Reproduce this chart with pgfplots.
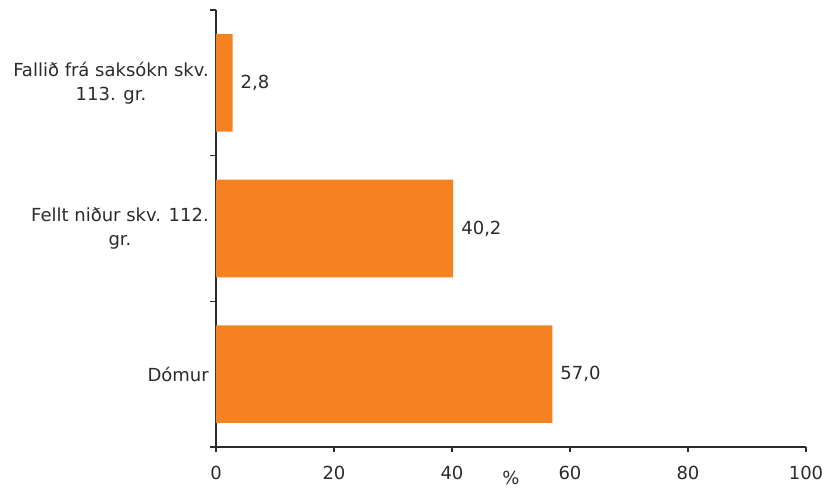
\documentclass[border=0pt]{standalone}
\usepackage{pgfplots}
\pgfplotsset{compat=1.18}
\usepackage{fontspec}
\setmainfont{DejaVu Sans}
\definecolor{barc}{HTML}{F58220}
\definecolor{txt}{HTML}{2B2B2B}
\begin{document}
\fontsize{18}{24}\selectfont
\begin{tikzpicture}[x=1pt,y=1pt]
\path[use as bounding box] (-216,-41) rectangle (609,447);
\begin{axis}[
  at={(0,0)}, anchor=south west,
  scale only axis, width=590pt, height=437pt,
  xbar, bar width=0.67,
  xmin=0, xmax=100, ymin=-0.5, ymax=2.5,
  axis lines*=left,
  axis line style={-, line width=1.5pt, color=txt},
  /pgf/number format/assume math mode=true,
  ytick={0,1,2},
  yticklabels={Dómur, {Fellt niður skv. 112.\\gr.}, {Fallið frá saksókn skv.\\113. gr.}},
  yticklabel style={align=center, text=txt, font=\fontsize{18}{24}\selectfont, xshift=4pt},
  major y tick style={draw=none},
  minor ytick={-0.5,0.5,1.5,2.5},
  minor tick length=6pt,
  xtick={0,20,40,60,80,100},
  xticklabel style={text=txt, font=\fontsize{18}{24}\selectfont, yshift=-8pt},
  tick align=outside,
  major tick length=5pt,
  tick style={line width=1.5pt, color=txt},
  xlabel={\%},
  xlabel style={at={(axis description cs:0.5,0)}, anchor=center, yshift=-31pt, inner sep=1pt, text=txt, font=\fontsize{18}{20}\selectfont},
  nodes near coords={\pgfmathprintnumber[fixed,fixed zerofill,precision=1,use comma,assume math mode=true]{\pgfplotspointmeta}},
  every node near coord/.append style={text=txt, xshift=2pt, font=\fontsize{18}{24}\selectfont},
]
\addplot[fill=barc, draw=none] coordinates {(57.0,0) (40.2,1) (2.8,2)};
\end{axis}
\end{tikzpicture}
\end{document}
